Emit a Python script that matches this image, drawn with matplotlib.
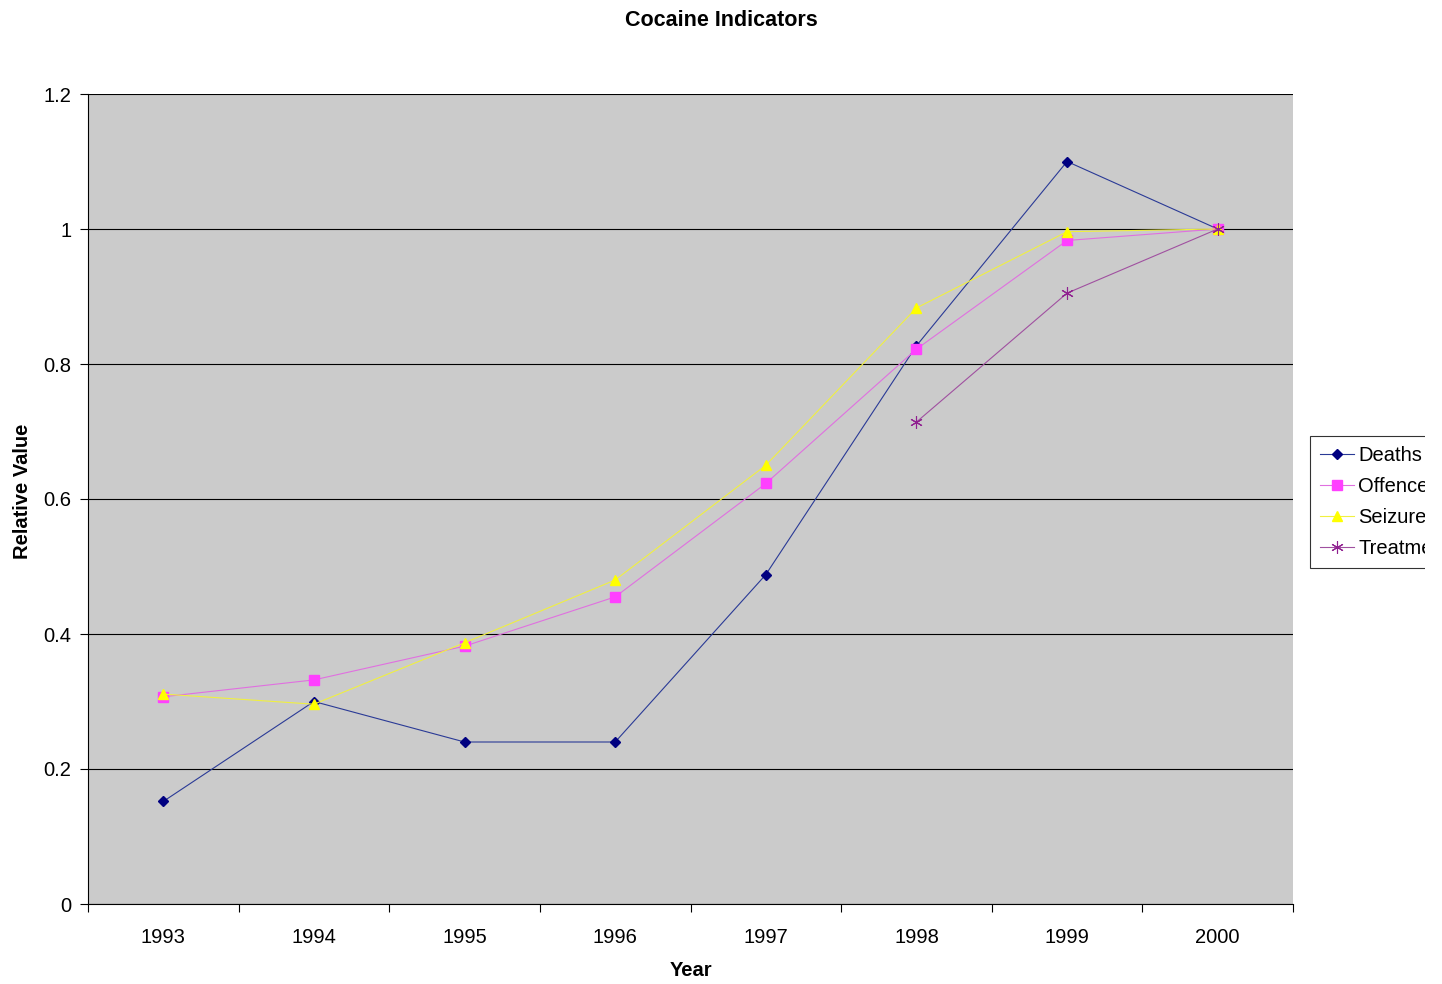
import numpy as np
import matplotlib
matplotlib.use("Agg")
import matplotlib.pyplot as plt
from matplotlib.patches import Rectangle

plt.rcParams['font.family'] = ['Liberation Sans', 'DejaVu Sans']

years = ["1993", "1994", "1995", "1996", "1997", "1998", "1999", "2000"]
deaths = [0.152, 0.300, 0.240, 0.240, 0.488, 0.827, 1.100, 1.000]
offences = [0.307, 0.332, 0.382, 0.455, 0.623, 0.822, 0.983, 1.000]
seizures = [0.311, 0.296, 0.387, 0.480, 0.650, 0.883, 0.996, 1.000]
treatment = [np.nan, np.nan, np.nan, np.nan, np.nan, 0.714, 0.905, 1.000]

fig = plt.figure(figsize=(14.42, 9.84), dpi=100)
ax = fig.add_axes([88 / 1442, 1 - 904 / 984, (1293 - 88) / 1442, (904 - 94) / 984])
ax.set_facecolor("#CBCBCB")

x = np.arange(len(years))
ax.plot(x, deaths, color="#2A3A96", lw=0.8, marker="D", ms=5,
        mfc="#000080", mec="#000080", label="Deaths")
ax.plot(x, offences, color="#E070E0", lw=0.8, marker="s", ms=7,
        mfc="#FF40FF", mec="#FF40FF", label="Offences")
ax.plot(x, seizures, color="#F0F040", lw=0.8, marker="^", ms=7,
        mfc="#FFFF00", mec="#FFFF00", label="Seizures")
ax.plot(x, treatment, color="#A050A0", lw=0.8, marker=(6, 2, 0), ms=9,
        mfc="#800080", mec="#902090", mew=0.8, label="Treatment")

ax.set_xlim(-0.5, 7.5)
ax.set_ylim(0, 1.2)
ax.set_yticks(np.arange(0, 1.21, 0.2))
ax.set_yticklabels(["0", "0.2", "0.4", "0.6", "0.8", "1", "1.2"])
ax.set_xticks(x)
ax.set_xticklabels(years)
ax.set_xticks(np.arange(-0.5, 7.6, 1), minor=True)
ax.tick_params(axis="x", which="major", length=0, labelsize=14.5, pad=17)
ax.tick_params(axis="x", which="minor", length=6, width=0.8, direction="out")
ax.tick_params(axis="y", length=6, width=0.8, labelsize=14.5, pad=6)
ax.yaxis.grid(True, color="black", lw=0.8)
ax.set_axisbelow(True)
for s in ["top", "right"]:
    ax.spines[s].set_visible(False)
for s in ["left", "bottom"]:
    ax.spines[s].set_linewidth(0.8)

ax.set_xlabel("Year", fontsize=14.5, fontweight="bold", labelpad=10)
ax.set_ylabel("Relative Value", fontsize=14.5, fontweight="bold")
ax.yaxis.set_label_coords(-0.0465, 0.509)
fig.text(0.5, 1 - 20 / 984, "Cocaine Indicators", fontsize=15.5,
         fontweight="bold", ha="center", va="center")

leg = fig.legend(loc="upper left", bbox_to_anchor=(1310 / 1442, 1 - 436 / 984),
                 fontsize=14.5, frameon=True, fancybox=False, edgecolor="black",
                 borderpad=0.5, labelspacing=0.6, handlelength=1.7,
                 handletextpad=0.2, borderaxespad=0)
leg.get_frame().set_linewidth(0.8)

# the source image is cut off at the right, legend included
fig.patches.append(Rectangle((1425 / 1442, 0), 1, 1, transform=fig.transFigure,
                             facecolor="white", edgecolor="none", zorder=10))

fig.savefig("out.png", dpi=100)
